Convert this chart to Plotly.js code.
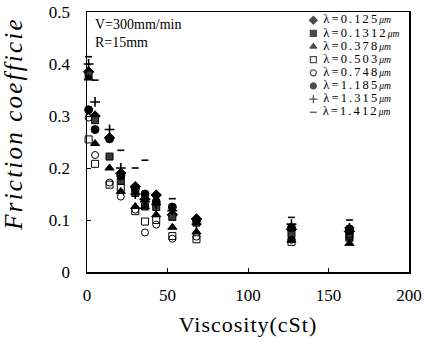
<!DOCTYPE html>
<html>
<head>
<meta charset="utf-8">
<script src="https://cdn.plot.ly/plotly-3.0.1.min.js"></script>
<style>html,body{margin:0;padding:0;background:#fff;}#chart{width:433px;height:345px;}</style>
</head>
<body>
<div id="chart"></div>
<script>
// Viscosity (cSt) for each test oil
const viscosity = [1, 5, 14, 21, 30, 36, 43, 53, 68, 127, 163];

// Friction coefficient per surface roughness λ (µm)
const lambda0125  = [0.385, 0.300, 0.258, 0.190, 0.164, 0.140, 0.148, 0.110, 0.102, 0.082, 0.078];
const lambda01312 = [0.380, 0.292, 0.222, 0.175, 0.152, 0.126, 0.125, 0.106, 0.095, 0.073, 0.066];
const lambda0378  = [0.373, 0.247, 0.200, 0.155, 0.126, 0.126, 0.110, 0.086, 0.077, 0.061, 0.055];
const lambda0503  = [0.255, 0.208, 0.168, 0.162, 0.117, 0.097, 0.100, 0.069, 0.063, 0.058, 0.070];
const lambda0748  = [0.297, 0.225, 0.172, 0.145, 0.120, 0.076, 0.091, 0.064, 0.068, 0.062, 0.073];
const lambda1185  = [0.312, 0.274, 0.256, 0.185, 0.160, 0.150, 0.135, 0.125, 0.100, 0.085, 0.083];
const lambda1315  = [0.400, 0.327, 0.274, 0.200, 0.150, 0.135, 0.130, 0.118, 0.092, 0.092, 0.085];
const lambda1412  = [0.414, 0.369, null,  0.234, 0.200, 0.215, 0.145, 0.141, null,  0.105, 0.100];

const lambdaValues = ["0.125", "0.1312", "0.378", "0.503", "0.748", "1.185", "1.315", "1.412"];
const unitText = "μm";
const seriesValues = [lambda0125, lambda01312, lambda0378, lambda0503,
                      lambda0748, lambda1185, lambda1315, lambda1412];

const xTickVals = [0, 50, 100, 150, 200];
const yTickVals = [0, 0.1, 0.2, 0.3, 0.4, 0.5];
const conditionText = ["V=300mm/min", "R=15mm"];
const xTitle = "Viscosity(cSt)";
const yTitle = "Friction coefficie";

const symbols = ["diamond", "square", "triangle-up", "square-open",
                 "circle-open", "circle", "cross-thin-open", "line-ew-open"];
const colors  = ["#000", "#3a3a3a", "#000", "#000", "#000", "#000", "#000", "#000"];
const sizes   = [8, 7, 8, 7, 7, 8, 7, 5];

const serif = "Liberation Serif, Times New Roman, serif";

const traces = seriesValues.map((vals, i) => ({
  type: "scatter", mode: "markers", x: viscosity, y: vals,
  name: "λ=" + lambdaValues[i] + unitText, showlegend: false, cliponaxis: false,
  marker: {symbol: symbols[i], size: sizes[i], color: colors[i],
           line: {color: "#000", width: (i >= 6) ? 1.6 : 1}}
}));

// Legend drawn on a hidden overlay axis (0..1), one row per series
const legendTop = 0.968, legendStep = 0.0505, legendX = 0.703;
traces.push({
  type: "scatter", mode: "markers+text", xaxis: "x2", yaxis: "y2",
  x: lambdaValues.map(() => legendX),
  y: lambdaValues.map((_, i) => legendTop - i * legendStep),
  text: lambdaValues.map(v => "<span style='letter-spacing:2.1px'> λ=" + v +
        "</span><span style='font-size:9.5px'><i>" + unitText + "</i></span>"),
  textposition: "middle right",
  textfont: {family: serif, size: 12.5, color: "#000"},
  showlegend: false, hoverinfo: "skip", cliponaxis: true,
  marker: {symbol: symbols, size: [6, 6, 6, 6, 6, 6, 6, 5], color: "#000", line: {color: "#000", width: 1.2}}
});

const layout = {
  width: 433, height: 345,
  margin: {l: 87, r: 24, t: 12, b: 73, pad: 0},
  paper_bgcolor: "#fff", plot_bgcolor: "#fff",
  showlegend: false,
  font: {family: serif, color: "#000"},
  xaxis: {
    range: [0, 200], tickvals: xTickVals, ticks: "inside", ticklen: 4, tickwidth: 1,
    tickcolor: "#000", showline: true, linecolor: "#000", linewidth: 1.5, mirror: true,
    showgrid: false, zeroline: false, tickfont: {family: serif, size: 17, color: "#000"},
    ticklabelstandoff: 7,
    title: {text: "<span style='letter-spacing:1px'>" + xTitle + "</span>",
            font: {family: serif, size: 22, color: "#000"}, standoff: 12}
  },
  yaxis: {
    range: [0, 0.5], tickvals: yTickVals, ticks: "inside", ticklen: 4, tickwidth: 1,
    tickcolor: "#000", showline: true, linecolor: "#000", linewidth: 1.5, mirror: true,
    showgrid: false, zeroline: false, tickfont: {family: serif, size: 17, color: "#000"},
    ticklabelstandoff: 12
  },
  xaxis2: {overlaying: "x", range: [0, 1], visible: false, fixedrange: true},
  yaxis2: {overlaying: "y", range: [0, 1], visible: false, fixedrange: true},
  annotations: conditionText.map((t, i) => ({
    text: t, xref: "paper", yref: "paper", x: 0.02, y: 0.99 - i * 0.072,
    xanchor: "left", yanchor: "top", showarrow: false,
    font: {family: serif, size: 14, color: "#000"}
  })).concat([{
    text: "<span style='letter-spacing:2.2px'><i>" + yTitle + "</i></span>", xref: "paper", yref: "paper",
    x: -0.227, y: 0.57, xanchor: "center", yanchor: "middle", textangle: -90,
    showarrow: false, font: {family: serif, size: 25, color: "#000"}
  }])
};

Plotly.newPlot("chart", traces, layout, {displayModeBar: false, staticPlot: true});
</script>
</body>
</html>
